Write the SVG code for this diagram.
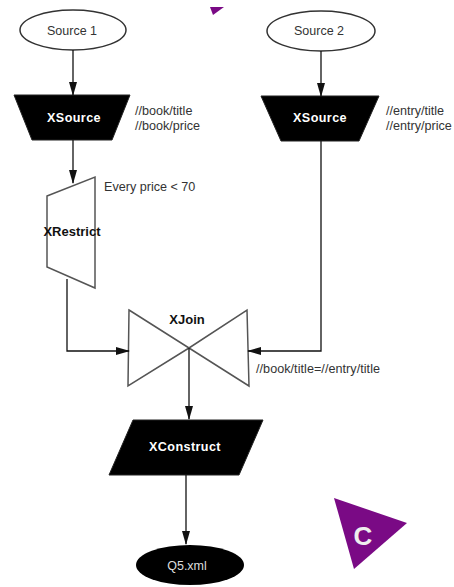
<svg xmlns="http://www.w3.org/2000/svg" width="454" height="587" viewBox="0 0 454 587">
<style>
text{font-family:"Liberation Sans",Arial,sans-serif;fill:#333}
.l{font-size:12.6px}
.c{font-size:12.5px;text-anchor:middle}
.b{font-size:12.6px;font-weight:bold;text-anchor:middle;fill:#fff;letter-spacing:.4px}
.k{font-size:13px;font-weight:bold;text-anchor:middle;fill:#111}
.o{fill:#fff;stroke:#333;stroke-width:1.5}
.s{fill:#000;stroke:#222}
.n{fill:#fff;stroke:#555;stroke-width:1.5}
#connectors path{fill:none;stroke:#111;stroke-width:1.3;marker-end:url(#a)}
</style>
<defs><marker id="a" markerUnits="userSpaceOnUse" markerWidth="14" markerHeight="8" refX="13" refY="4" orient="auto" viewBox="0 0 14 8"><path d="M0 0L14 4L0 8Z" fill="#111"/></marker></defs>
<rect width="454" height="587" fill="#fff"/>
<polygon points="210,7 224,7 213,15" fill="#7a0a85"/>
<g id="source1"><ellipse class="o" cx="73" cy="30" rx="53" ry="20"/><text class="c" x="72" y="35">Source 1</text></g>
<g id="source2"><ellipse class="o" cx="321" cy="31" rx="54" ry="20"/><text class="c" x="319" y="35">Source 2</text></g>
<g id="xsource1"><polygon class="s" points="14,95 130,95 112,140 32,140"/><text class="b" x="74" y="122">XSource</text><text class="l" x="135" y="115">//book/title</text><text class="l" x="135" y="130">//book/price</text></g>
<g id="xsource2"><polygon class="s" points="261,96 379,96 359,141 281,141"/><text class="b" x="320" y="122">XSource</text><text class="l" x="386" y="115">//entry/title</text><text class="l" x="386" y="130">//entry/price</text></g>
<g id="xrestrict"><polygon class="n" points="47,196 95,177 95,288 47,267"/><text class="k" x="72" y="236">XRestrict</text><text class="l" x="104" y="191">Every price &lt; 70</text></g>
<g id="xjoin"><polygon class="n" points="129,310 189,348 247,310 249,386 189,348 128,386"/><text class="k" x="187" y="324">XJoin</text><text class="l" x="256" y="373" textLength="124">//book/title=//entry/title</text></g>
<g id="xconstruct"><polygon class="s" points="133,420 263,420 239,475 109,475"/><text class="b" x="185" y="451">XConstruct</text></g>
<g id="q5"><ellipse cx="190" cy="565" rx="54" ry="20" fill="#000"/><text class="c" x="187" y="570" style="fill:#ddd">Q5.xml</text></g>
<g id="badge"><polygon points="334,498 407,523 354,569" fill="#7a0a85"/><text x="363" y="545" font-size="26" font-weight="bold" text-anchor="middle" style="fill:#eee">C</text></g>
<g id="connectors">
<path d="M73 50V95"/>
<path d="M321 51V96"/>
<path d="M73 140V183"/>
<path d="M67 279V351H129"/>
<path d="M321 141V351H248"/>
<path d="M189 348V419"/>
<path d="M186 475V544"/>
</g>
</svg>
